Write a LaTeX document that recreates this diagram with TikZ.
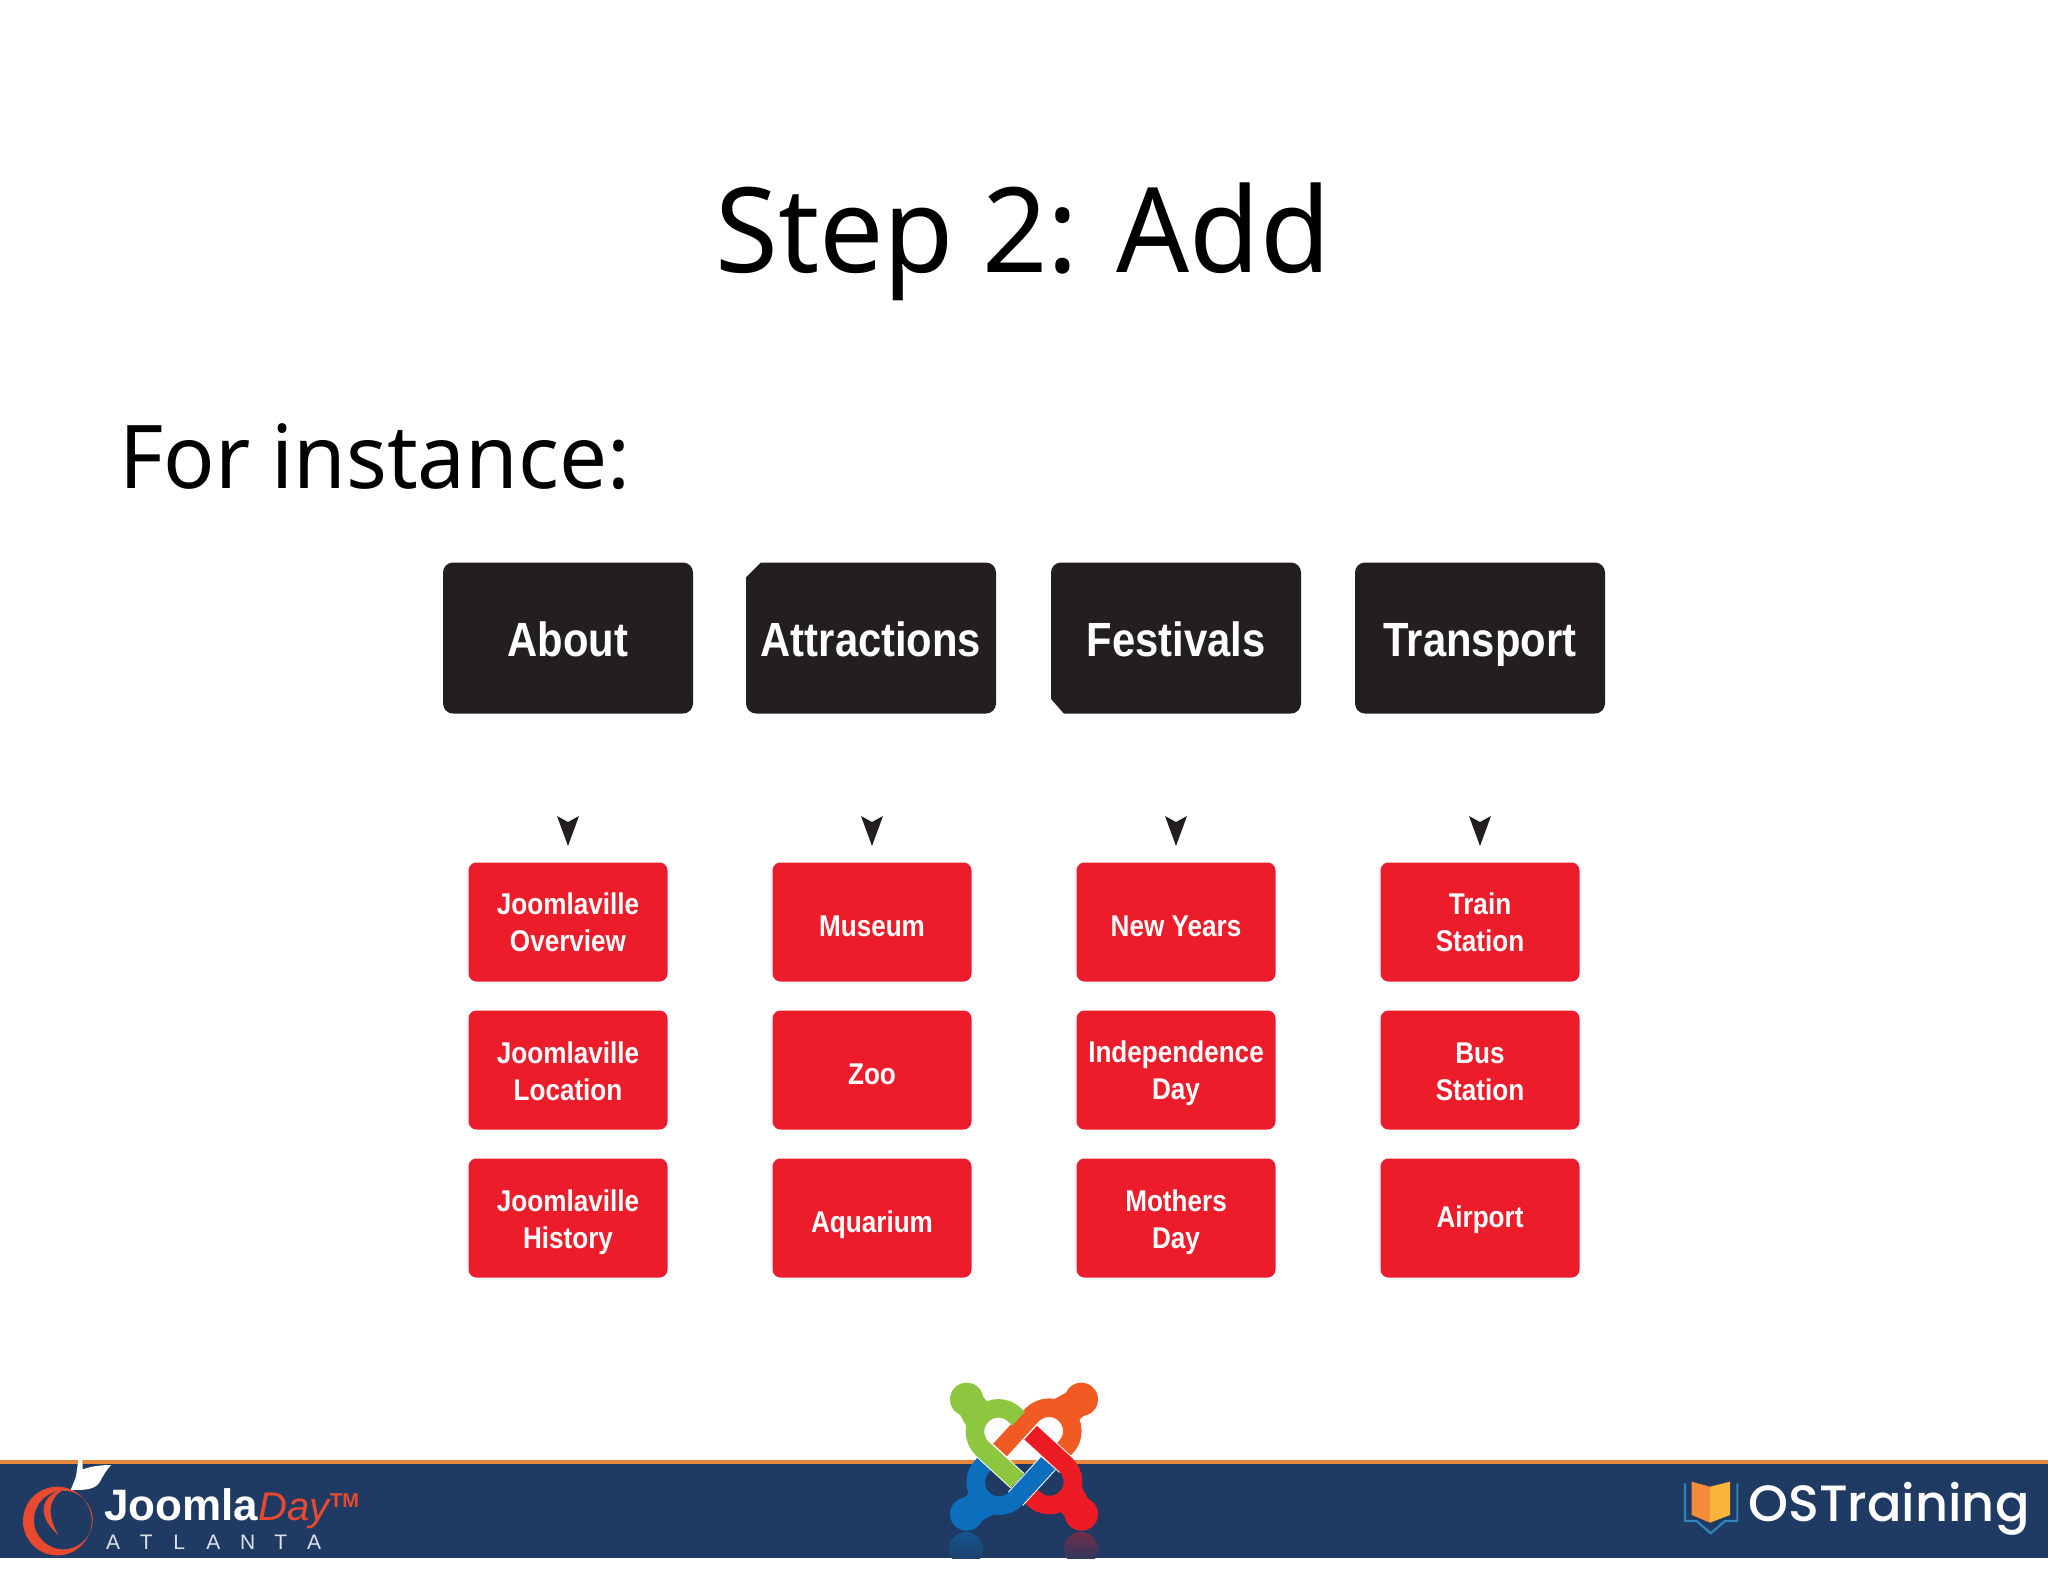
\documentclass[tikz,border=0pt]{standalone}
\usepackage{fontspec}
\setmainfont{Noto Sans}
\newfontfamily\ttlfont[FakeStretch=0.97,WordSpace=0.95]{Noto Sans}
\newfontfamily\boxfont[FakeStretch=0.87]{Liberation Sans Bold}
\newfontfamily\popfont{Poppins Medium}
\newfontfamily\lsfont{Liberation Sans}
\definecolor{boxblack}{HTML}{231F20}
\definecolor{boxred}{HTML}{ED1C2A}
\definecolor{navy}{HTML}{1F3B63}
\definecolor{bandorange}{HTML}{E9873A}
\definecolor{jgreen}{HTML}{8DC63F}
\definecolor{jorange}{HTML}{F15A22}
\definecolor{jred}{HTML}{ED1C24}
\definecolor{jblue}{HTML}{0B6FBE}
\definecolor{appler}{HTML}{E8492F}
\definecolor{pageo}{HTML}{F28C38}
\definecolor{pagey}{HTML}{F9B43A}
\definecolor{bookb}{HTML}{2E86B8}
\tikzset{
  topbox/.style={fill=boxblack,rounded corners=10pt,minimum width=250pt,minimum height=151pt,inner sep=0pt,text=white,text height=37pt,text depth=0pt,font=\boxfont\fontsize{48}{56}\selectfont},
  subbox/.style={fill=boxred,rounded corners=8pt,minimum width=199pt,minimum height=119pt,inner sep=0pt,text=white,align=center,text depth=0pt,font=\boxfont\fontsize{30}{36.6}\selectfont},
  tipshape/.style={fill=boxblack},
}
\begin{document}
\begin{tikzpicture}[x=1pt,y=-1pt]
\useasboundingbox (0,0) rectangle (2048,1582);
\fill[white] (0,0) rectangle (2048,1582);
% titles
\node[anchor=base,inner sep=0pt,font=\ttlfont\fontsize{118}{130}\selectfont] (title) at (1023,272) {Step 2: Add};
\node[anchor=base west,inner sep=0pt,font=\ttlfont\fontsize{88}{100}\selectfont] (intro) at (119,488) {For instance:};
% top boxes
\node[topbox] (about) at (568,638) {About};
\node[topbox] (attr) at (871,638) {Attractions};
\node[topbox] (fest) at (1176,638) {Festivals};
\node[topbox] (trans) at (1480,638) {Transport};
\fill[white] (746,561) -- (762,561) -- (746,577) -- cycle;
\fill[white] (1050,698) -- (1050,714) -- (1064,714) -- cycle;
% arrow tips
\foreach \n/\x in {a/568,b/872,c/1176,d/1480}{
  \fill[tipshape] (\x-11,816) -- (\x,822) -- (\x+11,816) -- (\x,846) -- cycle;
}
% sub boxes
\node[subbox,text height=58pt] (a1) at (568,922) {Joomlaville\\Overview};
\node[subbox,text height=60pt] (a2) at (568,1070) {Joomlaville\\Location};
\node[subbox,text height=60pt] (a3) at (568,1218) {Joomlaville\\History};
\node[subbox,text height=28pt] (b1) at (872,922) {Museum};
\node[subbox,text height=28pt] (b2) at (872,1070) {Zoo};
\node[subbox,text height=28pt] (b3) at (872,1218) {Aquarium};
\node[subbox,text height=28pt] (c1) at (1176,922) {New Years};
\node[subbox,text height=58pt] (c2) at (1176,1070) {Independence\\Day};
\node[subbox,text height=60pt] (c3) at (1176,1218) {Mothers\\Day};
\node[subbox,text height=58pt] (d1) at (1480,922) {Train\\Station};
\node[subbox,text height=60pt] (d2) at (1480,1070) {Bus\\Station};
\node[subbox,text height=19pt] (d3) at (1480,1218) {Airport};
% footer band
\fill[navy] (0,1462) rectangle (2048,1558);
\fill[bandorange] (0,1459.5) rectangle (2048,1463.5);
% Joomla logo reflections
\begin{scope}
\clip (0,1462) rectangle (2048,1558);
\shade[top color=jblue!50!navy,bottom color=navy] (966,1549) circle (17pt);
\shade[top color=jred!40!navy,bottom color=navy] (1081,1549) circle (17pt);
\end{scope}
% Joomla logo
\foreach \c/\a in {jorange/270,jred/180,jblue/90,jgreen/0}{
\begin{scope}[xshift=900pt,yshift=-1360pt,x=.33333pt,y=-.33333pt,rotate around={\a:(372,290)}]
  \draw[white,line width=20.5pt] (245.5,264.5) -- (352,362);
  \draw[\c,line width=18.5pt] (356,176) -- (344.5,165.5) .. controls (331,152) and (314,145) .. (295,145) .. controls (256.5,145) and (225,176.5) .. (225,215) .. controls (225,234) and (233,252) .. (245.5,264.5) -- (352,362);
  \fill[\c] (200,118) circle (50);
  \fill[\c] (240,100) -- (178,160) -- (205,210) -- (275,140) -- cycle;
\end{scope}
}
% JoomlaDay logo
\begin{scope}[yshift=-1440pt,x=.33333pt,y=-.33333pt]
  \fill[appler,even odd rule] (172,243) circle (103) (190,240) circle (88);
  \fill[appler] (195,146) .. controls (130,160) and (100,220) .. (175,285) .. controls (135,215) and (150,170) .. (195,146) -- cycle;
  \fill[white] (235,60) -- (228,110) -- (212,150) .. controls (255,150) and (285,150) .. (300,125) .. controls (310,105) and (320,90) .. (333,75) .. controls (300,75) and (270,80) .. (248,88) -- (247,60) -- cycle;
\end{scope}
\node[anchor=base west,inner sep=0pt,text=white,font=\lsfont\bfseries\fontsize{44}{50}\selectfont] (jl) at (104,1520) {Joomla};
\node[anchor=base west,inner sep=0pt,text=appler,font=\lsfont\itshape\fontsize{40}{50}\selectfont] (jd) at (258,1520) {Day};
\node[anchor=base west,inner sep=0pt,text=appler,font=\lsfont\bfseries\fontsize{20}{24}\selectfont] (tm) at (330,1507) {TM};
\node[anchor=base west,inner sep=0pt,text=white!85!navy,font=\lsfont\fontsize{21}{24}\selectfont] (atl) at (106,1549) {A\hspace{19.6pt}T\hspace{20.8pt}L\hspace{21.3pt}A\hspace{19.6pt}N\hspace{19.3pt}T\hspace{19.8pt}A};
% OSTraining logo
\begin{scope}[xshift=1660pt,yshift=-1440pt,x=.33333pt,y=-.33333pt]
  \draw[bookb,line width=2.2pt,line join=round] (75,130) -- (75,243) -- (110,243) -- (152,280) -- (195,243) -- (232,243) -- (232,130);
  \fill[pageo] (95,125) -- (150,140) -- (150,248) -- (95,225) -- cycle;
  \fill[pagey] (150,140) -- (210,125) -- (210,225) -- (150,248) -- cycle;
\end{scope}
\node[anchor=base west,inner sep=0pt,text=white,font=\popfont\fontsize{51}{54}\selectfont] (ost) at (1748,1521) {OSTraining};
\end{tikzpicture}
\end{document}
